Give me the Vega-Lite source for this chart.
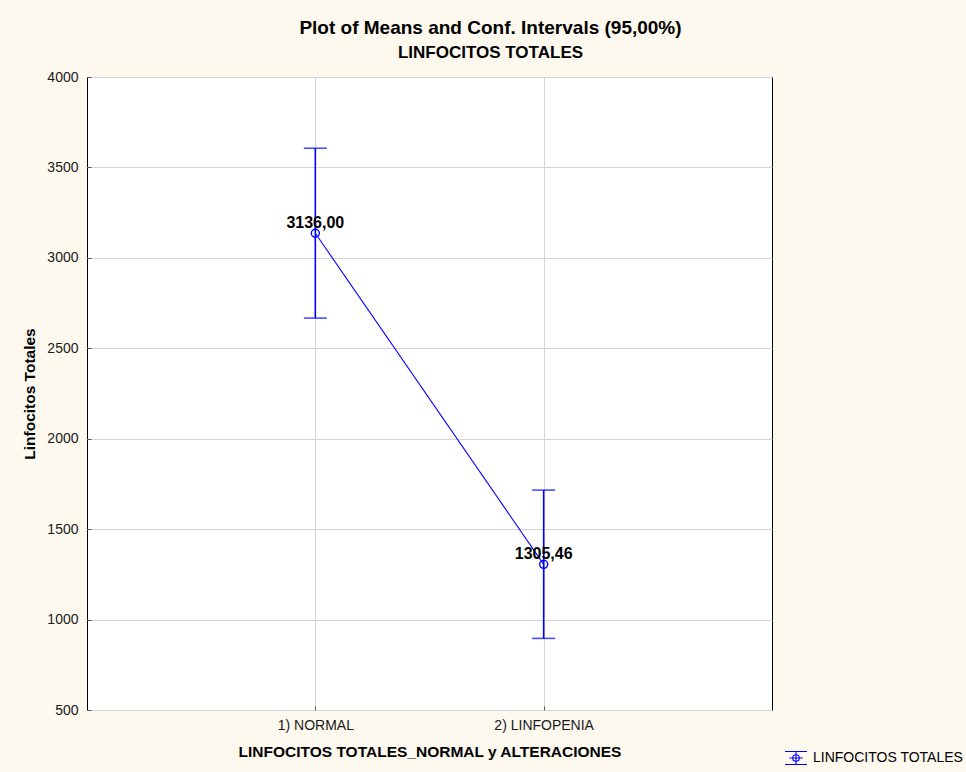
{
  "$schema": "https://vega.github.io/schema/vega-lite/v6.json",
  "width": 685,
  "height": 633,
  "autosize": {"type": "none"},
  "padding": {"left": 87, "top": 77, "right": 194, "bottom": 62},
  "background": "#fdf9ef",
  "title": {
    "text": "Plot of Means and Conf. Intervals (95,00%)",
    "subtitle": "LINFOCITOS TOTALES",
    "anchor": "middle",
    "frame": "group",
    "dx": 61,
    "offset": 9,
    "font": "Liberation Sans",
    "fontSize": 19,
    "fontWeight": "bold",
    "color": "#000000",
    "subtitleFont": "Liberation Sans",
    "subtitleFontSize": 17,
    "subtitleFontWeight": "bold",
    "subtitleColor": "#000000",
    "subtitlePadding": 7
  },
  "config": {
    "locale": {"number": {"decimal": ",", "thousands": "", "grouping": [3], "currency": ["", ""]}},
    "view": {"fill": "#ffffff", "stroke": "#000000", "strokeWidth": 1},
    "axis": {
      "labelFont": "Liberation Sans",
      "labelFontSize": 14,
      "labelColor": "#1a1a1a",
      "titleFont": "Liberation Sans",
      "titleFontSize": 15.5,
      "titleFontWeight": "bold",
      "titleColor": "#000000",
      "gridColor": "#d4d4d4",
      "gridWidth": 1,
      "domain": false,
      "tickColor": "#555555",
      "tickSize": -4
    }
  },
  "data": {
    "values": [
      {"group": "1) NORMAL", "series": "LINFOCITOS TOTALES", "mean": 3136.00, "lo": 2667, "hi": 3606},
      {"group": "2) LINFOPENIA", "series": "LINFOCITOS TOTALES", "mean": 1305.46, "lo": 896, "hi": 1716}
    ]
  },
  "encoding": {
    "x": {
      "field": "group",
      "type": "nominal",
      "scale": {"type": "point", "padding": 1},
      "axis": {"title": "LINFOCITOS TOTALES_NORMAL y ALTERACIONES", "labelAngle": 0, "labelPadding": 12, "titlePadding": 12, "grid": true}
    }
  },
  "layer": [
    {
      "mark": {"type": "rule", "color": "#0000ff", "strokeWidth": 1.6},
      "encoding": {
        "y": {"field": "lo", "type": "quantitative"},
        "y2": {"field": "hi"}
      }
    },
    {
      "mark": {"type": "tick", "color": "#0000ff", "size": 23, "thickness": 1.6},
      "encoding": {"y": {"field": "lo", "type": "quantitative"}}
    },
    {
      "mark": {"type": "tick", "color": "#0000ff", "size": 23, "thickness": 1.6},
      "encoding": {"y": {"field": "hi", "type": "quantitative"}}
    },
    {
      "mark": {"type": "line", "color": "#0000ff", "strokeWidth": 1.1},
      "encoding": {"y": {"field": "mean", "type": "quantitative"}}
    },
    {
      "mark": {"type": "point", "shape": "circle", "filled": false, "size": 64, "strokeWidth": 1.4, "fill": "#ffffff", "fillOpacity": 0, "opacity": 1},
      "encoding": {
        "y": {
          "field": "mean",
          "type": "quantitative",
          "scale": {"domain": [500, 4000], "nice": false, "zero": false},
          "axis": {"title": "Linfocitos Totales", "values": [500, 1000, 1500, 2000, 2500, 3000, 3500, 4000], "labelPadding": 13, "titlePadding": 9}
        },
        "color": {
          "field": "series",
          "type": "nominal",
          "scale": {"range": ["#0000ff"]},
          "legend": {
            "title": null,
            "orient": "none",
            "legendX": 697,
            "legendY": 669,
            "symbolType": "M-1,-0.59H1M-1,0.59H1M0,-0.59V0.59M-0.6,0H0.6M0.3,0A0.3,0.3 0 1,1 -0.3,0A0.3,0.3 0 1,1 0.3,0",
            "symbolSize": 484,
            "symbolStrokeWidth": 1.1,
            "symbolFillColor": "transparent",
            "symbolOpacity": 1,
            "labelFont": "Liberation Sans",
            "labelFontSize": 14,
            "labelColor": "#000000",
            "labelOffset": 5
          }
        }
      }
    },
    {
      "mark": {"type": "text", "font": "Liberation Sans", "fontSize": 16, "fontWeight": "bold", "color": "#000000", "baseline": "alphabetic", "dy": -5},
      "encoding": {
        "y": {"field": "mean", "type": "quantitative"},
        "text": {"field": "mean", "type": "quantitative", "format": ".2f"}
      }
    }
  ]
}
